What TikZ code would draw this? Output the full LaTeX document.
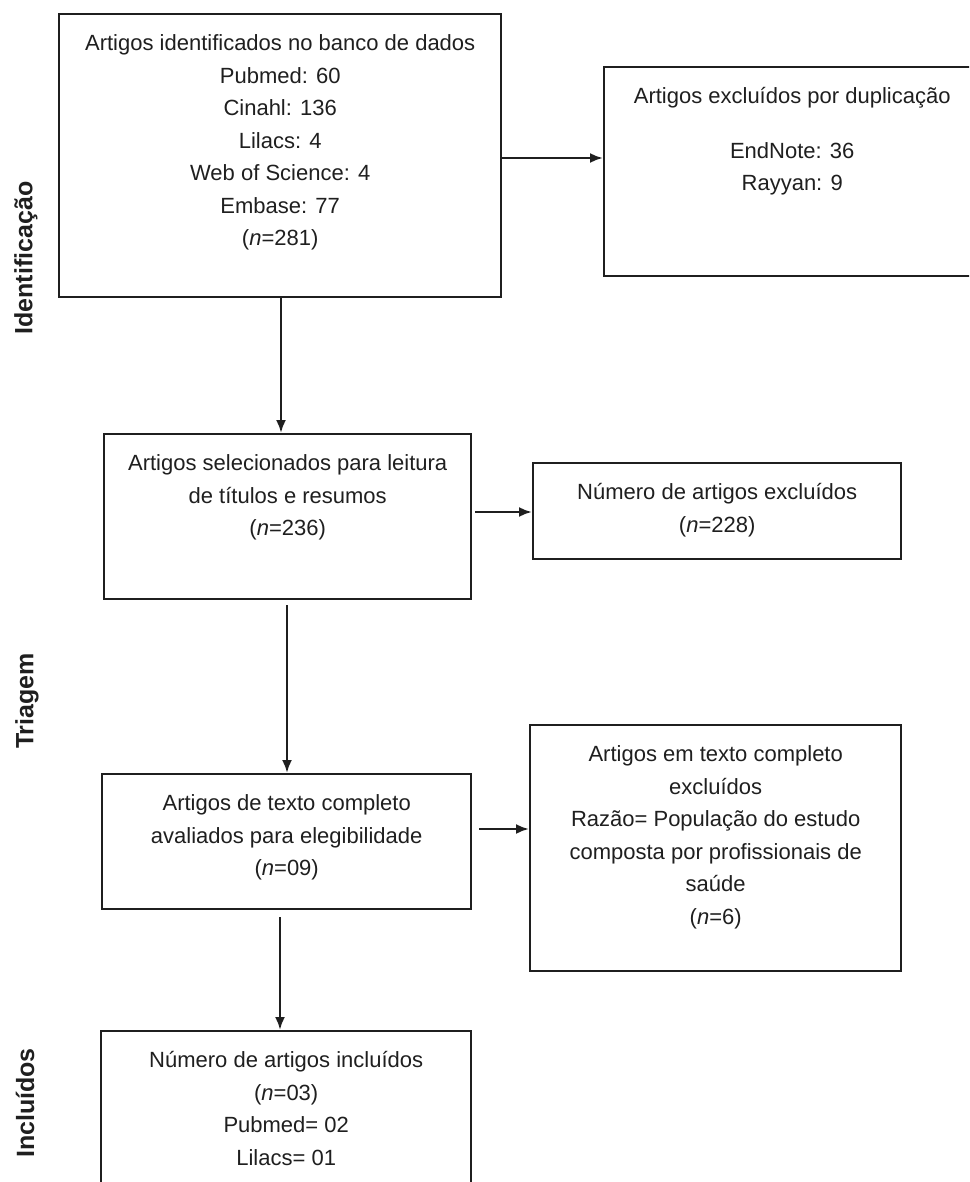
\documentclass[tikz,border=0pt]{standalone}
\usepackage{fontspec}
\setmainfont{Liberation Sans}
\usetikzlibrary{arrows.meta}
\definecolor{ink}{HTML}{1F1F1F}
\newcommand{\bxt}[3]{\parbox[c][#2pt][t]{#1pt}{\vspace*{14pt}\centering\strut #3\par}}
\begin{document}
\begin{tikzpicture}[x=1pt,y=-1pt,
  box/.style={draw=ink, line width=2.4pt, inner sep=0pt, anchor=north west, text=ink,
    font=\fontsize{22}{32.5}\selectfont},
  arr/.style={draw=ink, line width=2.4pt, -{Latex[length=13pt,width=10pt]}},
  side/.style={rotate=90, inner sep=0pt, text=ink, font=\fontsize{25}{30}\selectfont\bfseries}]
\useasboundingbox (0,0) rectangle (969,1182);
\clip (0,0) rectangle (969,1182);
\fill[white] (0,0) rectangle (969,1182);

\node[box] (b1) at (58,13) {\bxt{442}{283}{Artigos identificados no banco de dados\\ Pubmed: 60\\ Cinahl: 136\\ Lilacs: 4\\ Web of Science: 4\\ Embase: 77\\ (\textit{n}=281)}};
\node[box] (b2) at (603,66) {\bxt{376}{209}{Artigos excluídos por duplicação\\[22pt] EndNote: 36\\ Rayyan: 9}};
\node[box] (b3) at (103,433) {\bxt{367}{165}{Artigos selecionados para leitura\\ de títulos e resumos\\ (\textit{n}=236)}};
\node[box] (b4) at (532,462) {\bxt{368}{96}{Número de artigos excluídos\\ (\textit{n}=228)}};
\node[box] (b5) at (101,773) {\bxt{369}{135}{Artigos de texto completo\\ avaliados para elegibilidade\\ (\textit{n}=09)}};
\node[box] (b6) at (529,724) {\bxt{371}{246}{Artigos em texto completo\\ excluídos\\ Razão= População do estudo\\ composta por profissionais de\\ saúde\\ (\textit{n}=6)}};
\node[box] (b7) at (100,1030) {\bxt{370}{175}{Número de artigos incluídos\\ (\textit{n}=03)\\ Pubmed= 02\\ Lilacs= 01}};

\node[side] (s1) at (26,258) {Identificação};
\node[side] (s2) at (27,701) {Triagem};
\node[side] (s3) at (25,1103) {Incluídos};

\coordinate (c1) at (281,0);
\coordinate (c2) at (287,0);
\coordinate (c3) at (280,0);
\coordinate (r1) at (0,158);
\coordinate (r2) at (0,512);
\coordinate (r3) at (0,829);

\draw[arr] (b1.south -| c1) -- (b3.north -| c1);
\draw[arr] (b1.east |- r1) -- (b2.west |- r1);
\draw[arr, shorten <=5pt] (b3.south -| c2) -- (b5.north -| c2);
\draw[arr, shorten <=3pt] (b3.east |- r2) -- (b4.west |- r2);
\draw[arr, shorten <=7pt] (b5.east |- r3) -- (b6.west |- r3);
\draw[arr, shorten <=7pt] (b5.south -| c3) -- (b7.north -| c3);
\end{tikzpicture}
\end{document}
